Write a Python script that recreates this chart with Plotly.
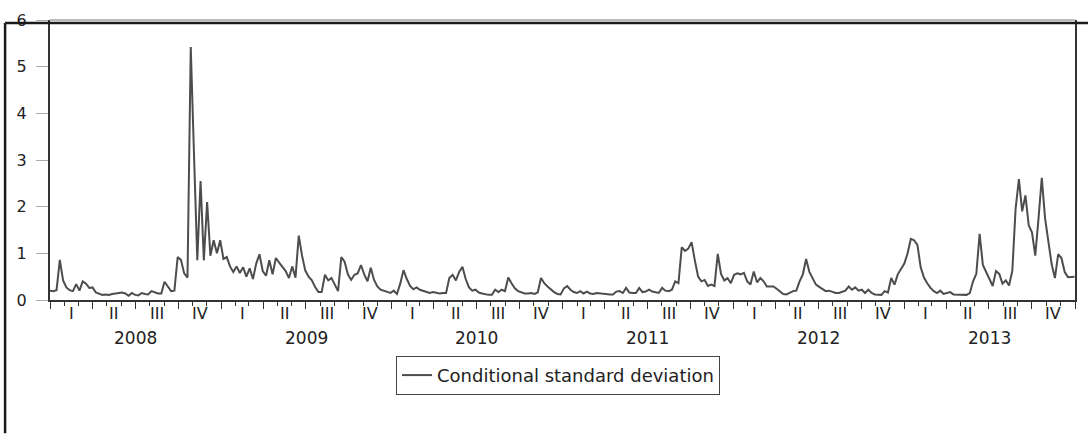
import plotly.graph_objects as go
import pandas as pd

start_date = "2008-01-01"
series_name = "Conditional standard deviation"
values = [
    0.20, 0.19, 0.21, 0.86, 0.42, 0.27, 0.21, 0.19, 0.34, 0.20,
    0.40, 0.35, 0.26, 0.27, 0.16, 0.13, 0.11, 0.12, 0.11, 0.13,
    0.14, 0.15, 0.16, 0.14, 0.09, 0.15, 0.11, 0.10, 0.15, 0.13,
    0.12, 0.19, 0.16, 0.14, 0.14, 0.39, 0.29, 0.19, 0.20, 0.92,
    0.86, 0.57, 0.48, 5.42, 3.10, 0.85, 2.55, 0.85, 2.10, 0.95,
    1.28, 1.00, 1.28, 0.88, 0.92, 0.72, 0.60, 0.72, 0.58, 0.70,
    0.50, 0.68, 0.45, 0.78, 0.98, 0.62, 0.52, 0.85, 0.55, 0.90,
    0.80, 0.72, 0.62, 0.47, 0.72, 0.48, 1.38, 0.95, 0.63, 0.50,
    0.42, 0.28, 0.17, 0.17, 0.54, 0.42, 0.47, 0.33, 0.19, 0.92,
    0.82, 0.55, 0.43, 0.54, 0.57, 0.75, 0.55, 0.40, 0.69, 0.43,
    0.29, 0.22, 0.20, 0.18, 0.15, 0.20, 0.13, 0.35, 0.64, 0.45,
    0.30, 0.23, 0.27, 0.22, 0.20, 0.18, 0.15, 0.17, 0.15, 0.14,
    0.15, 0.15, 0.47, 0.54, 0.42, 0.60, 0.71, 0.45, 0.27, 0.20,
    0.22, 0.16, 0.14, 0.12, 0.11, 0.11, 0.22, 0.17, 0.22, 0.19,
    0.48, 0.36, 0.25, 0.19, 0.16, 0.14, 0.14, 0.15, 0.13, 0.16,
    0.47, 0.36, 0.29, 0.22, 0.17, 0.13, 0.12, 0.25, 0.30, 0.22,
    0.17, 0.15, 0.19, 0.14, 0.18, 0.14, 0.13, 0.15, 0.14, 0.13,
    0.13, 0.12, 0.12, 0.18, 0.19, 0.15, 0.26, 0.16, 0.15, 0.15,
    0.26, 0.17, 0.18, 0.22, 0.18, 0.16, 0.15, 0.26, 0.20, 0.19,
    0.22, 0.40, 0.36, 1.13, 1.05, 1.10, 1.24, 0.85, 0.50, 0.40,
    0.43, 0.30, 0.33, 0.30, 0.99, 0.56, 0.42, 0.47, 0.36, 0.54,
    0.57, 0.55, 0.58, 0.40, 0.33, 0.61, 0.38, 0.47, 0.40, 0.29,
    0.29, 0.29, 0.24, 0.18, 0.13, 0.12, 0.15, 0.19, 0.20, 0.40,
    0.55, 0.88, 0.60, 0.45, 0.33, 0.28, 0.24, 0.19, 0.20, 0.17,
    0.15, 0.15, 0.17, 0.20, 0.29, 0.22, 0.27, 0.20, 0.22, 0.15,
    0.22, 0.15, 0.12, 0.11, 0.11, 0.19, 0.16, 0.47, 0.33, 0.55,
    0.68, 0.78, 1.00, 1.31, 1.28, 1.18, 0.70, 0.48, 0.36, 0.26,
    0.19, 0.15, 0.20, 0.13, 0.15, 0.17, 0.12, 0.12, 0.11, 0.11,
    0.11, 0.15, 0.40, 0.56, 1.42, 0.75, 0.58, 0.45, 0.30, 0.62,
    0.56, 0.35, 0.42, 0.31, 0.63, 1.96, 2.59, 1.90, 2.24, 1.60,
    1.45, 0.95, 1.75, 2.62, 1.75, 1.20, 0.77, 0.47, 0.98, 0.90,
    0.60, 0.49, 0.49, 0.50,
]
years = [2008, 2009, 2010, 2011, 2012, 2013]
quarter_labels = ["I", "II", "III", "IV"]
y_ticks = [0, 1, 2, 3, 4, 5, 6]

# ---------------- derived positions ----------------
dates = pd.date_range(start_date, periods=len(values), freq="7D")
q_starts = pd.date_range(f"{years[0]}-01-01", f"{years[-1] + 1}-01-01", freq="QS")
q_mids = [q_starts[i] + (q_starts[i + 1] - q_starts[i]) / 2 for i in range(len(q_starts) - 1)]
q_text = [quarter_labels[i % 4] for i in range(len(q_mids))]
y_mids = [pd.Timestamp(f"{y}-07-02") for y in years]

FONT = "DejaVu Sans"
W, H = 1088, 434
L, R, T, B = 50, 11, 14, 134
PW, PH = W - L - R, H - T - B


def px_x(px):
    return (px - L) / PW


def px_y(py):
    return (H - B - py) / PH


fig = go.Figure()
fig.add_trace(go.Scatter(
    x=dates, y=values, mode="lines", name=series_name,
    line=dict(color="#4d4d4d", width=2), showlegend=True,
))

annotations = []
for d, t in zip(q_mids, q_text):
    annotations.append(dict(x=d, xref="x", y=px_y(314), yref="paper", text=t,
                            showarrow=False, font=dict(family=FONT, size=16, color="#222"),
                            xanchor="center", yanchor="middle"))
for d, y in zip(y_mids, years):
    annotations.append(dict(x=d, xref="x", y=px_y(339), yref="paper", text=str(y),
                            showarrow=False, font=dict(family=FONT, size=17, color="#222"),
                            xanchor="center", yanchor="middle"))

shapes = [
    # thin top frame of the plot
    dict(type="line", xref="paper", yref="paper", x0=0, x1=1, y0=1, y1=1,
         line=dict(color="#777777", width=1)),
    # outer graph frame (top and left edges)
    dict(type="line", xref="paper", yref="paper", x0=px_x(5), x1=px_x(1090),
         y0=px_y(17), y1=px_y(17), line=dict(color="#1a1a1a", width=2.5)),
    dict(type="line", xref="paper", yref="paper", x0=px_x(5), x1=px_x(5),
         y0=px_y(17), y1=px_y(436), line=dict(color="#1a1a1a", width=2.5)),
]

fig.update_layout(
    width=W, height=H, autosize=False,
    margin=dict(l=L, r=R, t=T, b=B, pad=0),
    paper_bgcolor="white", plot_bgcolor="white",
    font=dict(family=FONT, size=15, color="#222"),
    xaxis=dict(
        type="date", range=[f"{years[0]}-01-01", f"{years[-1] + 1}-01-01"],
        showgrid=False, zeroline=False,
        showline=True, linecolor="#333333", linewidth=2, mirror=False,
        tickmode="array", tickvals=list(q_starts), showticklabels=False,
        ticks="outside", ticklen=7, tickwidth=1, tickcolor="#333333",
        minor=dict(dtick="M1", tick0=f"{years[0]}-01-01", ticks="outside",
                   ticklen=4, tickwidth=1, tickcolor="#333333", showgrid=False),
    ),
    yaxis=dict(
        range=[0, 6], tickmode="array", tickvals=y_ticks,
        ticktext=[str(v) for v in y_ticks],
        showgrid=False, zeroline=False,
        showline=True, linecolor="#333333", linewidth=2, mirror=True,
        ticks="outside", ticklen=12, tickwidth=1, tickcolor="#aaaaaa",
        tickfont=dict(family=FONT, size=16, color="#222"),
        ticklabelstandoff=6,
    ),
    legend=dict(
        x=px_x(559), y=px_y(377), xanchor="center", yanchor="middle",
        orientation="h", bordercolor="#444444", borderwidth=1, bgcolor="white",
        font=dict(family=FONT, size=18, color="#222"),
    ),
    annotations=annotations,
    shapes=shapes,
)

fig.write_html("out.html", config={"displayModeBar": False},
               post_script="document.body.style.margin='0px';")
